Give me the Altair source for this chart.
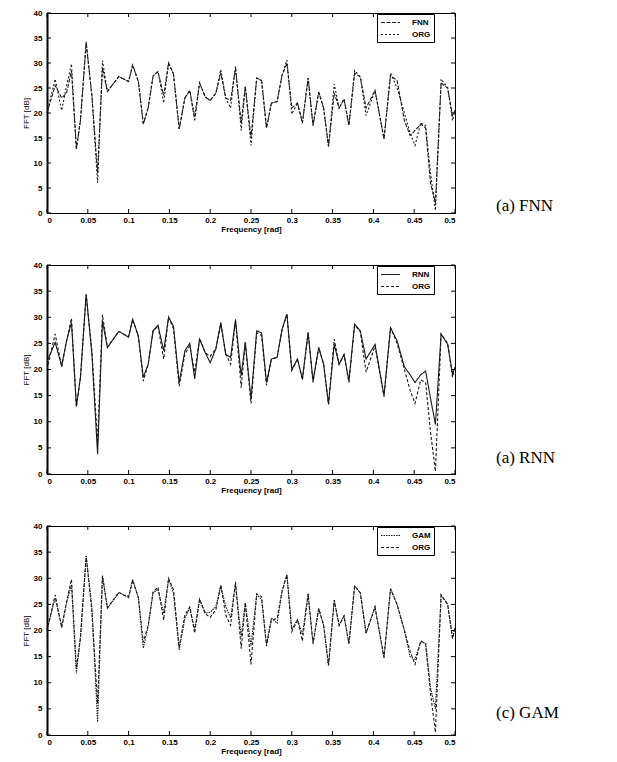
import altair as alt
import pandas as pd

freq = [0.000, 0.010, 0.018, 0.024, 0.030, 0.036, 0.041, 0.048, 0.055, 0.062,
        0.068, 0.074, 0.088, 0.100, 0.105, 0.112, 0.118, 0.124, 0.130, 0.136,
        0.143, 0.149, 0.155, 0.162, 0.169, 0.175, 0.181, 0.187, 0.194, 0.200,
        0.207, 0.213, 0.219, 0.225, 0.231, 0.238, 0.243, 0.250, 0.257, 0.263,
        0.269, 0.275, 0.282, 0.288, 0.294, 0.300, 0.307, 0.313, 0.320, 0.326,
        0.333, 0.339, 0.345, 0.352, 0.358, 0.364, 0.370, 0.377, 0.384, 0.391,
        0.402, 0.413, 0.421, 0.429, 0.438, 0.445, 0.451, 0.458, 0.464, 0.470,
        0.476, 0.483, 0.491, 0.497, 0.500]

org = [20.0, 26.8, 20.5, 25.5, 29.8, 12.8, 18.5, 34.3, 23.5, 6.0,
       30.5, 24.3, 27.3, 26.3, 29.6, 26.3, 17.8, 21.0, 27.4, 28.3,
       22.0, 30.0, 27.8, 16.8, 23.0, 24.5, 19.5, 26.0, 23.2, 22.5,
       24.0, 28.7, 23.0, 21.0, 29.3, 16.5, 25.3, 13.5, 27.0, 26.5,
       17.0, 22.0, 22.3, 27.5, 30.6, 19.8, 22.0, 18.0, 27.0, 17.5,
       24.2, 21.0, 13.3, 25.8, 21.0, 22.8, 17.5, 28.5, 27.2, 19.5,
       24.5, 14.8, 28.0, 25.0, 20.0, 16.0, 13.5, 18.0, 17.5, 8.0,
       0.5, 26.8, 25.0, 18.5, 20.5]

fnn = [20.0, 25.5, 23.0, 24.0, 28.5, 12.8, 18.5, 34.0, 23.5, 8.0,
       29.0, 24.3, 27.3, 26.3, 29.6, 26.3, 17.8, 21.0, 27.4, 28.3,
       23.5, 30.0, 27.8, 16.8, 23.0, 24.5, 18.5, 26.0, 23.2, 22.5,
       24.0, 28.0, 23.0, 22.5, 29.0, 18.0, 25.3, 15.0, 27.0, 26.5,
       17.0, 22.0, 22.3, 27.5, 30.0, 21.0, 22.0, 18.0, 27.0, 17.5,
       24.2, 21.0, 13.3, 24.0, 21.0, 22.8, 17.5, 28.0, 27.2, 21.0,
       24.5, 14.8, 27.5, 26.5, 18.5, 15.5, 16.5, 17.8, 17.0, 6.0,
       2.0, 26.0, 25.0, 19.5, 20.5]

rnn = [21.5, 25.2, 20.7, 25.5, 29.0, 13.0, 18.5, 34.4, 23.0, 3.8,
       29.3, 24.2, 27.3, 26.2, 29.6, 26.4, 18.5, 21.0, 27.4, 28.5,
       23.6, 30.0, 28.3, 17.5, 23.6, 25.0, 18.2, 25.8, 23.2, 21.3,
       24.0, 29.0, 22.9, 22.3, 29.6, 18.8, 25.2, 14.3, 27.4, 27.0,
       17.5, 22.0, 22.3, 27.7, 30.6, 20.0, 22.0, 18.2, 27.1, 17.8,
       24.2, 21.0, 13.4, 24.8, 21.0, 22.9, 17.8, 28.7, 27.4, 22.0,
       24.8, 15.0, 28.0, 25.5, 20.5, 19.0, 17.5, 19.0, 19.7, 14.5,
       9.5, 26.8, 24.8, 19.1, 20.4]

gam = [20.2, 26.2, 20.8, 25.3, 28.8, 11.8, 18.8, 34.2, 24.6, 2.5,
       30.4, 24.3, 27.2, 26.5, 29.8, 26.2, 16.6, 20.8, 27.2, 27.9,
       23.3, 29.8, 27.2, 16.3, 22.4, 24.3, 20.2, 26.0, 23.3, 23.5,
       24.6, 28.5, 24.6, 22.4, 28.8, 18.8, 25.3, 17.0, 26.9, 25.9,
       17.3, 22.4, 21.4, 27.5, 30.7, 20.2, 22.1, 19.2, 27.0, 17.5,
       24.2, 21.0, 13.3, 25.8, 21.0, 22.8, 17.5, 28.5, 27.2, 19.5,
       24.5, 14.8, 28.0, 25.0, 20.0, 15.0, 14.5, 17.9, 17.5, 9.0,
       5.0, 26.8, 25.0, 18.5, 20.5]

y_ticks = [0, 5, 10, 15, 20, 25, 30, 35, 40]
x_ticks = [0, 0.05, 0.1, 0.15, 0.2, 0.25, 0.3, 0.35, 0.4, 0.45, 0.5]

names = ["FNN", "RNN", "GAM"]
models = [fnn, rnn, gam]
labels = ["(a)  FNN", "(a)  RNN", "(c)  GAM"]
heights = [200, 209, 209]
label_y = [193, 193, 187]
dashes = [
    [[4, 1.5], [2, 2]],
    [[1, 0], [3, 2]],
    [[1.5, 1], [3, 2]],
]

W = 408
INK = "#1a1a1a"


def panel(name, model, label, H, dash, ly):
    n = len(freq)
    df = pd.DataFrame({
        "f": freq + freq,
        "v": model + org,
        "s": [name] * n + ["ORG"] * n,
    })
    xs = alt.Scale(domain=[0, 0.5], nice=False, zero=False)
    ys = alt.Scale(domain=[0, 40], nice=False)
    x = alt.X("f:Q", scale=xs,
              axis=alt.Axis(values=x_ticks, format="~g", title="Frequency [rad]",
                            ticks=False, grid=False, labelPadding=3, titlePadding=1,
                            titleFontWeight="bold", domainWidth=1, labelOverlap=False))
    y = alt.Y("v:Q", scale=ys,
              axis=alt.Axis(values=y_ticks, title="FFT [dB]", ticks=False, grid=False,
                            labelPadding=5, titlePadding=3, titleFontWeight="normal",
                            domainWidth=2, labelOverlap=False))
    lines = alt.Chart(df).mark_line(strokeWidth=1.1, color=INK).encode(
        x=x, y=y,
        strokeDash=alt.StrokeDash(
            "s:N",
            scale=alt.Scale(domain=[name, "ORG"], range=dash),
            legend=alt.Legend(title=None, orient="none", legendX=W - 6 - 72, legendY=1,
                              strokeColor="black", fillColor="white", padding=3,
                              symbolType="M-2,0H2", symbolSize=90, symbolStrokeWidth=1.1,
                              symbolStrokeColor=INK, symbolOffset=5,
                              labelFont="Liberation Sans",
                              labelFontSize=8, labelFontWeight="bold", labelOffset=16,
                              rowPadding=2, labelLimit=60),
        ),
        detail="s:N",
    )
    ydf = pd.DataFrame({"v": y_ticks})
    xdf = pd.DataFrame({"f": x_ticks})
    t_left = alt.Chart(ydf).mark_rule(color="black").encode(y=y, x=alt.value(0), x2=alt.value(4))
    t_right = alt.Chart(ydf).mark_rule(color="black").encode(y=y, x=alt.value(W - 4), x2=alt.value(W))
    t_top = alt.Chart(xdf).mark_rule(color="black").encode(x=x, y=alt.value(0), y2=alt.value(4))
    t_bot = alt.Chart(xdf).mark_rule(color="black").encode(x=x, y=alt.value(H - 4), y2=alt.value(H))
    lab = alt.Chart(pd.DataFrame({"label": [label]})).mark_text(
        align="left", baseline="middle", font="Liberation Serif", fontSize=17, color="black"
    ).encode(x=alt.value(W + 41), y=alt.value(ly), text="label:N")
    return alt.layer(lines, t_left, t_right, t_top, t_bot, lab).properties(width=W, height=H)


chart = alt.vconcat(
    *[panel(names[i], models[i], labels[i], heights[i], dashes[i], label_y[i]) for i in range(3)],
    spacing=26,
).resolve_scale(
    strokeDash="independent", x="independent", y="independent"
).resolve_legend(
    strokeDash="independent"
).properties(
    padding={"left": 13, "top": 0, "right": 0, "bottom": 0},
    background="white",
).configure_view(
    stroke="black", strokeWidth=1
).configure_axis(
    labelFont="Liberation Sans", labelFontSize=8, labelFontWeight="bold", labelColor="black",
    titleFont="Liberation Sans", titleFontSize=8, titleColor="black",
    domainColor="black",
)

chart.save("out.html", embed_options={"renderer": "svg", "actions": False})
